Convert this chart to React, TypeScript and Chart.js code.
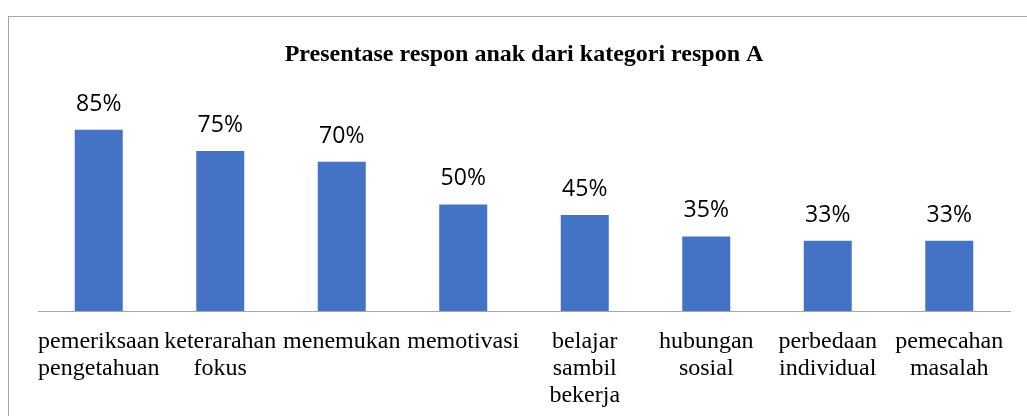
import React, { useEffect, useRef } from "react";
import { Chart, registerables } from "chart.js";

Chart.register(...registerables);

const categories: string[][] = [
  ["pemeriksaan", "pengetahuan"],
  ["keterarahan", "fokus"],
  ["menemukan"],
  ["memotivasi"],
  ["belajar", "sambil", "bekerja"],
  ["hubungan", "sosial"],
  ["perbedaan", "individual"],
  ["pemecahan", "masalah"],
];
const values: number[] = [85, 75, 70, 50, 45, 35, 33, 33];
const valueLabels: string[] = ["85%", "75%", "70%", "50%", "45%", "35%", "33%", "33%"];
const chartTitle = "Presentase respon anak dari kategori respon A";

const dataLabelPlugin = {
  id: "dataLabels",
  afterDatasetsDraw(chart: any) {
    const ctx = chart.ctx;
    const meta = chart.getDatasetMeta(0);
    ctx.save();
    ctx.font = "23px 'Open Sans', 'Noto Sans', sans-serif";
    ctx.fillStyle = "#000000";
    ctx.textAlign = "center";
    ctx.textBaseline = "alphabetic";
    meta.data.forEach((bar: any, i: number) => {
      ctx.fillText(valueLabels[i], bar.x, bar.y - 19);
    });
    ctx.restore();
  },
};

export default function App() {
  const canvasRef = useRef<HTMLCanvasElement | null>(null);

  useEffect(() => {
    if (!canvasRef.current) return;
    const chart = new Chart(canvasRef.current, {
      type: "bar",
      data: {
        labels: categories,
        datasets: [
          {
            data: values,
            backgroundColor: "#4472C4",
            borderWidth: 0,
            categoryPercentage: 1,
            barPercentage: 0.395,
          },
        ],
      },
      options: {
        responsive: false,
        animation: false,
        layout: { padding: { left: 29, right: 33, top: 0, bottom: 8 } },
        plugins: {
          legend: { display: false },
          tooltip: { enabled: false },
          title: {
            display: true,
            text: chartTitle,
            color: "#000000",
            font: { family: "'Liberation Serif', 'Times New Roman', serif", size: 24, weight: "bold", lineHeight: 1.2 },
            padding: { top: 23, bottom: 29 },
          },
        },
        scales: {
          x: {
            grid: { display: false, drawTicks: false },
            border: { display: true, color: "#a6a6a6", width: 1 },
            ticks: {
              color: "#000000",
              maxRotation: 0,
              minRotation: 0,
              autoSkip: false,
              padding: 17,
              font: { family: "'Liberation Serif', 'Times New Roman', serif", size: 24, lineHeight: "27px" },
            },
          },
          y: {
            display: false,
            min: 0,
            max: 100,
          },
        },
      },
      plugins: [dataLabelPlugin],
    });
    return () => chart.destroy();
  }, []);

  return (
    <div style={{ position: "fixed", left: 0, top: 0, width: 1027, height: 416, overflow: "hidden", background: "#ffffff" }}>
      <div
        style={{
          position: "absolute",
          left: 8,
          top: 16,
          width: 1034,
          height: 440,
          border: "1px solid #a6a6a6",
          background: "#ffffff",
        }}
      >
        <canvas ref={canvasRef} width={1034} height={417} style={{ display: "block", width: 1034, height: 417 }} />
      </div>
    </div>
  );
}
